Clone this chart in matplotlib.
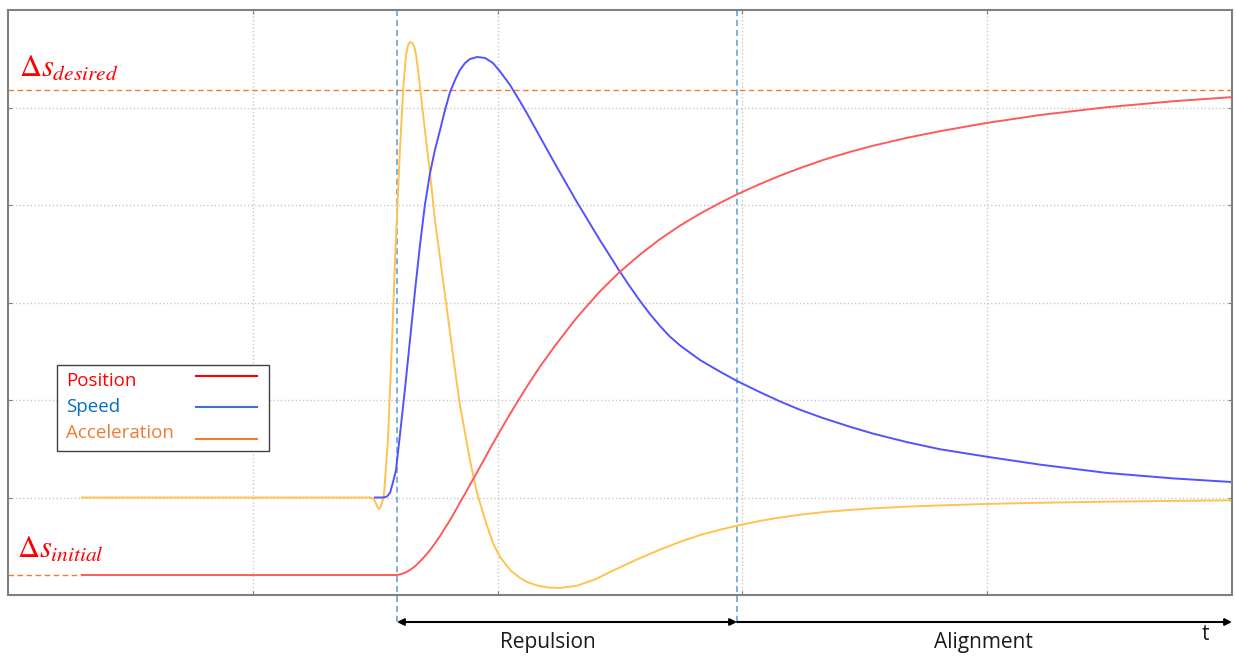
import matplotlib.pyplot as plt
from matplotlib.patches import Rectangle

plt.rcParams['mathtext.fontset'] = 'stix'

# values, axis units (x: 0..5, y: 0..6)
pos_t = [0.302, 1.589, 1.601, 1.622, 1.642, 1.663, 1.683, 1.703, 1.724, 1.744, 1.765,
         1.785, 1.806, 1.826, 1.846, 1.867, 1.887, 1.916, 1.949, 1.981, 2.010, 2.051,
         2.092, 2.120, 2.173, 2.235, 2.324, 2.418, 2.496, 2.582, 2.663, 2.745, 2.827,
         2.909, 2.978, 3.072, 3.154, 3.235, 3.329, 3.440, 3.534, 3.672, 3.807, 3.999,
         4.216, 4.489, 4.759, 4.992]
pos_v = [0.205, 0.205, 0.211, 0.229, 0.256, 0.295, 0.344, 0.398, 0.460, 0.530, 0.605,
         0.687, 0.769, 0.856, 0.949, 1.039, 1.130, 1.259, 1.408, 1.555, 1.681, 1.857,
         2.026, 2.139, 2.342, 2.558, 2.847, 3.114, 3.307, 3.492, 3.649, 3.788, 3.911,
         4.022, 4.109, 4.215, 4.301, 4.378, 4.461, 4.545, 4.608, 4.689, 4.757, 4.842,
         4.923, 5.003, 5.064, 5.105]

spd_t = [1.499, 1.532, 1.548, 1.561, 1.573, 1.585, 1.601, 1.622, 1.642, 1.663, 1.683,
         1.703, 1.724, 1.744, 1.765, 1.785, 1.806, 1.826, 1.846, 1.867, 1.887, 1.916,
         1.949, 1.981, 2.010, 2.051, 2.092, 2.120, 2.173, 2.235, 2.324, 2.418, 2.496,
         2.540, 2.582, 2.623, 2.663, 2.704, 2.745, 2.827, 2.909, 2.978, 3.072, 3.154,
         3.235, 3.329, 3.440, 3.534, 3.672, 3.807, 3.999, 4.216, 4.489, 4.759, 4.992]
spd_v = [1.0, 1.0, 1.010, 1.051, 1.159, 1.282, 1.641, 2.123, 2.615, 3.128, 3.590,
         4.000, 4.328, 4.564, 4.769, 4.974, 5.159, 5.282, 5.385, 5.456, 5.497, 5.518,
         5.508, 5.456, 5.370, 5.230, 5.060, 4.940, 4.700, 4.420, 4.030, 3.640, 3.330,
         3.165, 3.015, 2.880, 2.760, 2.650, 2.560, 2.410, 2.290, 2.195, 2.080, 1.985,
         1.900, 1.815, 1.725, 1.655, 1.568, 1.495, 1.418, 1.337, 1.252, 1.196, 1.160]

acc_t = [0.302, 1.479, 1.495, 1.507, 1.516, 1.524, 1.532, 1.536, 1.552, 1.569, 1.581,
         1.589, 1.601, 1.614, 1.626, 1.634, 1.642, 1.650, 1.659, 1.667, 1.675, 1.683,
         1.703, 1.724, 1.744, 1.765, 1.785, 1.806, 1.826, 1.846, 1.867, 1.887, 1.916,
         1.949, 1.981, 2.010, 2.051, 2.092, 2.120, 2.161, 2.206, 2.255, 2.324, 2.398,
         2.459, 2.561, 2.663, 2.745, 2.827, 2.909, 2.990, 3.072, 3.141, 3.235, 3.329,
         3.440, 3.534, 3.672, 3.807, 3.999, 4.216, 4.489, 4.759, 4.992]
acc_v = [1.0, 1.0, 0.985, 0.913, 0.882, 0.913, 0.985, 1.036, 1.590, 2.615, 3.436,
         3.897, 4.564, 5.179, 5.538, 5.641, 5.672, 5.662, 5.631, 5.538, 5.385, 5.210,
         4.769, 4.328, 3.846, 3.456, 3.077, 2.687, 2.308, 1.949, 1.662, 1.385, 1.046,
         0.769, 0.533, 0.390, 0.256, 0.174, 0.133, 0.098, 0.077, 0.072, 0.095, 0.160,
         0.235, 0.355, 0.465, 0.545, 0.615, 0.670, 0.718, 0.760, 0.790, 0.823, 0.850,
         0.873, 0.889, 0.906, 0.919, 0.934, 0.946, 0.957, 0.965, 0.971]

s_desired = 5.179
s_initial = 0.205
t_repulsion = 1.589
t_alignment = 2.978

labels = ['Position', 'Speed', 'Acceleration']
label_colors = ['#ff0000', '#0070c0', '#ed7d31']
key_colors = ['#ff0000', '#4472c4', '#ed7d31']

fig = plt.figure(figsize=(12.36, 6.56), dpi=100)
ax = fig.add_axes([8 / 1236, 61 / 656, 1224 / 1236, 585 / 656])
ax.set_xlim(0, 5)
ax.set_ylim(0, 6)

ax.set_xticks([1, 2, 3, 4])
ax.set_yticks([1, 2, 3, 4, 5])
ax.tick_params(direction='in', length=3, color='#7f7f7f', top=True, right=True,
               labelleft=False, labelbottom=False)
ax.grid(True, color='#c8c8c8', linestyle=':', linewidth=1)
for sp in ax.spines.values():
    sp.set_color('#808080')
    sp.set_linewidth(1.5)

# reference levels
ax.plot([0, 5.016], [s_desired, s_desired], color='#ed7d31', linestyle='--',
        linewidth=1, dashes=(4, 2.5), clip_on=False)
ax.plot([0, pos_t[0]], [s_initial, s_initial], color='#ed7d31', linestyle='--',
        linewidth=1, dashes=(4, 2.5))
for tx in [t_repulsion, t_alignment]:
    ax.plot([tx, tx], [6, -0.28], color='#5b9bd5', linestyle='--', linewidth=1.1,
            dashes=(4, 2.5), clip_on=False)

ax.plot(acc_t, acc_v, color='#ffc24f', linewidth=1.4)
ax.plot(spd_t, spd_v, color='#5252ff', linewidth=1.4)
ax.plot(pos_t, pos_v, color='#ff5a5a', linewidth=1.4)

ax.text(0.045, 5.31, r'$\Delta s_{desired}$', color='red', fontsize=22,
        ha='left', va='baseline')
ax.text(0.037, 0.38, r'$\Delta s_{initial}$', color='red', fontsize=22,
        ha='left', va='baseline')

# phase arrows under the plot
ax.annotate('', xy=(t_repulsion, -0.277), xytext=(t_alignment, -0.277),
            arrowprops=dict(arrowstyle='<|-|>', color='black', lw=1.5,
                            shrinkA=0, shrinkB=0, mutation_scale=10),
            annotation_clip=False)
ax.annotate('', xy=(5.0, -0.277), xytext=(t_alignment, -0.277),
            arrowprops=dict(arrowstyle='-|>', color='black', lw=1.5,
                            shrinkA=0, shrinkB=0, mutation_scale=10),
            annotation_clip=False)
ax.text(2.206, -0.49, 'Repulsion', fontsize=15, family='Open Sans',
        ha='center', va='center', color='#1a1a1a')
ax.text(3.983, -0.49, 'Alignment', fontsize=15, family='Open Sans',
        ha='center', va='center', color='#1a1a1a')
ax.text(4.890, -0.40, 't', fontsize=15, family='Open Sans',
        ha='center', va='center', color='#1a1a1a')

# legend box drawn by hand: text left, key line right
ax.add_patch(Rectangle((0.040, 0.246), 0.173, 0.147, transform=ax.transAxes,
                       facecolor='white', edgecolor='#404040', linewidth=1, zorder=5))
text_y = [0.366, 0.321, 0.277]
key_y = [0.374, 0.321, 0.267]
for lab, tc, kc, ty, ky in zip(labels, label_colors, key_colors, text_y, key_y):
    ax.text(0.0474, ty, lab, color=tc, fontsize=13.5, family='Open Sans',
            ha='left', va='center', transform=ax.transAxes, zorder=6)
    ax.plot([0.1536, 0.2034], [ky, ky], color=kc, linewidth=1.5,
            transform=ax.transAxes, zorder=6)

fig.savefig('out.png', dpi=100)
